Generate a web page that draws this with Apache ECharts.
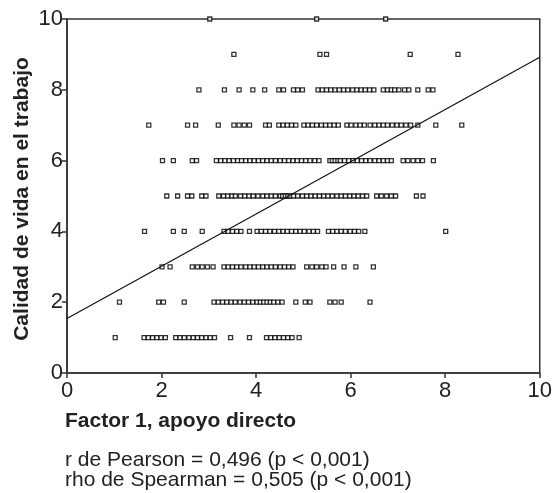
<!DOCTYPE html>
<html>
<head>
<meta charset="utf-8">
<script src="https://cdn.jsdelivr.net/npm/echarts@6/dist/echarts.min.js"></script>
<style>
html,body{margin:0;padding:0;background:#fff;}
#chart{width:555px;height:493px;}
</style>
</head>
<body>
<div id="chart"></div>
<script>
// Calidad de vida en el trabajo (y) by row, with Factor 1 values (x)
const rowY = [1, 2, 3, 4, 5, 6, 7, 8, 9, 10];
const xAtY1 = [1.02, 1.63, 1.72, 1.81, 1.90, 1.99, 2.08, 2.30, 2.39, 2.48, 2.58, 2.67, 2.76, 2.85, 2.94, 3.03, 3.12, 3.46, 3.86, 4.22, 4.31, 4.40, 4.49, 4.58, 4.67, 4.76, 4.91];
const xAtY2 = [1.11, 1.94, 2.04, 2.48, 3.11, 3.20, 3.29, 3.38, 3.47, 3.56, 3.66, 3.75, 3.84, 3.93, 4.02, 4.09, 4.16, 4.23, 4.30, 4.37, 4.46, 4.55, 4.84, 5.04, 5.14, 5.56, 5.67, 5.80, 6.41];
const xAtY3 = [2.01, 2.18, 2.65, 2.76, 2.86, 2.97, 3.09, 3.32, 3.41, 3.50, 3.59, 3.68, 3.78, 3.87, 3.96, 4.05, 4.14, 4.23, 4.32, 4.41, 4.51, 4.60, 4.69, 4.78, 5.07, 5.18, 5.28, 5.39, 5.48, 5.64, 5.86, 6.11, 6.48];
const xAtY4 = [1.64, 2.25, 2.48, 2.86, 3.32, 3.41, 3.50, 3.59, 3.68, 3.86, 4.02, 4.11, 4.20, 4.29, 4.39, 4.48, 4.57, 4.66, 4.75, 4.84, 4.93, 5.02, 5.12, 5.21, 5.30, 5.53, 5.62, 5.71, 5.80, 5.89, 5.99, 6.08, 6.17, 6.30, 8.01];
const xAtY5 = [2.11, 2.34, 2.55, 2.64, 2.85, 2.94, 3.21, 3.31, 3.40, 3.49, 3.56, 3.67, 3.76, 3.85, 3.94, 4.04, 4.14, 4.23, 4.32, 4.41, 4.51, 4.56, 4.62, 4.67, 4.72, 4.79, 4.88, 4.98, 5.07, 5.16, 5.25, 5.34, 5.43, 5.52, 5.61, 5.71, 5.80, 5.89, 5.98, 6.07, 6.16, 6.25, 6.34, 6.55, 6.65, 6.76, 6.86, 6.95, 7.39, 7.53];
const xAtY6 = [2.02, 2.25, 2.65, 2.74, 3.16, 3.25, 3.34, 3.43, 3.52, 3.61, 3.69, 3.78, 3.87, 3.96, 4.05, 4.14, 4.23, 4.32, 4.41, 4.51, 4.60, 4.69, 4.78, 4.87, 4.96, 5.05, 5.14, 5.24, 5.33, 5.56, 5.61, 5.67, 5.73, 5.78, 5.87, 5.96, 6.05, 6.14, 6.23, 6.32, 6.41, 6.51, 6.60, 6.69, 6.78, 6.86, 7.11, 7.21, 7.32, 7.42, 7.52, 7.75];
const xAtY7 = [1.73, 2.55, 2.72, 3.20, 3.53, 3.64, 3.75, 3.86, 4.20, 4.28, 4.48, 4.57, 4.66, 4.75, 4.84, 5.01, 5.10, 5.19, 5.28, 5.38, 5.47, 5.56, 5.65, 5.74, 5.92, 6.01, 6.11, 6.20, 6.29, 6.41, 6.51, 6.60, 6.69, 6.78, 6.88, 6.98, 7.07, 7.17, 7.27, 7.42, 7.80, 8.35];
const xAtY8 = [2.79, 3.33, 3.64, 3.93, 4.18, 4.48, 4.58, 4.79, 4.88, 4.98, 5.31, 5.40, 5.49, 5.58, 5.67, 5.76, 5.85, 5.94, 6.04, 6.13, 6.22, 6.31, 6.40, 6.49, 6.69, 6.78, 6.86, 6.93, 7.02, 7.14, 7.23, 7.42, 7.64, 7.74];
const xAtY9 = [3.53, 5.35, 5.49, 7.26, 8.27];
const xAtY10 = [3.02, 5.28, 6.74];
const xByRow = [xAtY1, xAtY2, xAtY3, xAtY4, xAtY5, xAtY6, xAtY7, xAtY8, xAtY9, xAtY10];

// fitted regression line endpoints [x, y]
const fitLine = [[0, 1.54], [10, 8.92]];

const axisTicks = [0, 2, 4, 6, 8, 10];
const xTitle = 'Factor 1, apoyo directo';
const yTitle = 'Calidad de vida en el trabajo';
const statLines = ['r de Pearson = 0,496 (p < 0,001)', 'rho de Spearman = 0,505 (p < 0,001)'];

const points = [];
xByRow.forEach((xs, i) => xs.forEach(x => points.push([x, rowY[i]])));

const FONT = '"Liberation Sans", Arial, Helvetica, sans-serif';
const chart = echarts.init(document.getElementById('chart'), null, {renderer: 'canvas'});
const axisCommon = {
  type: 'value', min: axisTicks[0], max: axisTicks[axisTicks.length - 1], interval: 2,
  splitLine: {show: false},
  axisLine: {show: true, lineStyle: {color: '#333', width: 1.5}},
  axisTick: {show: true, length: 5, lineStyle: {color: '#333', width: 1.5}},
  axisLabel: {color: '#222', fontSize: 22, fontFamily: FONT}
};
chart.setOption({
  animation: false,
  backgroundColor: '#fff',
  grid: {left: 67, right: 13, top: 19, bottom: 120, show: true, borderColor: '#333', borderWidth: 1.5, backgroundColor: 'transparent'},
  xAxis: Object.assign({}, axisCommon, {axisLabel: Object.assign({}, axisCommon.axisLabel, {margin: 7})}),
  yAxis: Object.assign({}, axisCommon, {axisLabel: Object.assign({}, axisCommon.axisLabel, {margin: 4})}),
  series: [
    {
      type: 'scatter', data: points, symbol: 'rect', symbolSize: 4,
      itemStyle: {color: '#fff', borderColor: '#000', borderWidth: 1.3}, z: 2
    },
    {
      type: 'line', data: fitLine, symbol: 'none', silent: true,
      lineStyle: {color: '#111', width: 1.2}, z: 3
    }
  ],
  graphic: [
    {type: 'text', x: 22, y: 199, rotation: Math.PI / 2,
     style: {text: yTitle, font: 'bold 21px ' + FONT, fill: '#222', align: 'center', verticalAlign: 'middle'}},
    {type: 'text', x: 65, y: 421,
     style: {text: xTitle, font: 'bold 21px ' + FONT, fill: '#222', align: 'left', verticalAlign: 'middle'}},
    {type: 'text', x: 65, y: 460,
     style: {text: statLines[0], font: '21px ' + FONT, fill: '#222', align: 'left', verticalAlign: 'middle'}},
    {type: 'text', x: 65, y: 480,
     style: {text: statLines[1], font: '21px ' + FONT, fill: '#222', align: 'left', verticalAlign: 'middle'}}
  ]
});
</script>
</body>
</html>
